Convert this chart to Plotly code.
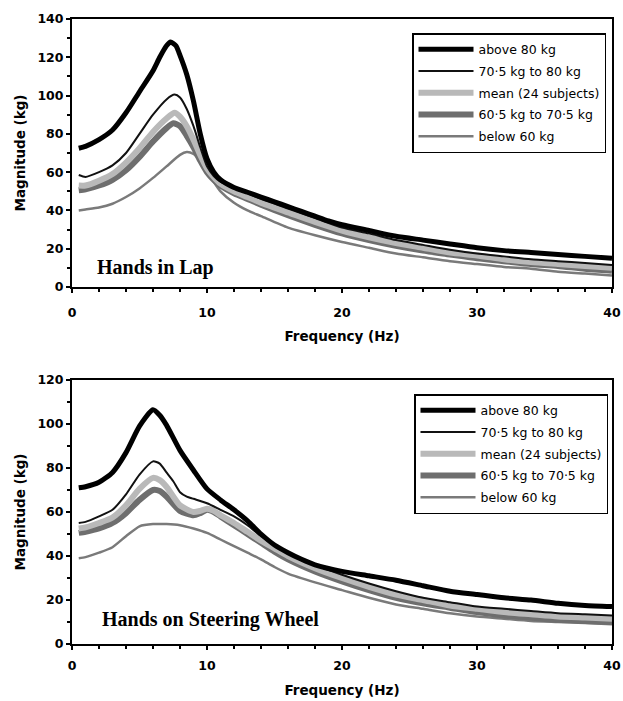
import plotly.graph_objects as go

# ---------------- data: Hands in Lap (top) ----------------
lap_above80_f = [0.5, 1, 2, 3, 4, 5, 6, 6.5, 7, 7.3, 7.7, 8, 8.5, 9, 9.5, 10, 10.5, 11, 12, 13, 14, 15, 16, 17, 18, 19, 20, 22, 24, 26, 28, 30, 32, 34, 36, 38, 40]
lap_above80_v = [72.5, 73.5, 77, 82, 91, 102, 113, 120, 126, 128, 126, 121, 111, 97, 80, 67, 60, 56, 52, 49.5, 47, 44.5, 42, 39.5, 37, 34.5, 32.5, 29.5, 26.5, 24.5, 22.5, 20.5, 19, 18, 17, 16, 15]

lap_705_f = [0.5, 1, 2, 3, 4, 5, 6, 7, 7.6, 8, 8.5, 9, 9.5, 10, 10.5, 11, 12, 13, 14, 16, 18, 20, 22, 24, 26, 28, 30, 32, 34, 36, 38, 40]
lap_705_v = [58.5, 57.5, 60, 63.5, 70, 80, 90, 98, 100.5, 99, 93, 84, 73, 63, 58, 55, 52, 49, 46, 41, 36, 31, 28, 24.5, 22, 19.5, 17.5, 16, 14.5, 13.5, 12.5, 11.5]

lap_mean_f = [0.5, 1, 2, 3, 4, 5, 6, 7, 7.6, 8, 8.5, 9, 9.5, 10, 10.5, 11, 12, 13, 14, 16, 18, 20, 22, 24, 26, 28, 30, 32, 34, 36, 38, 40]
lap_mean_v = [53, 53, 55.5, 59, 65, 72.5, 81, 88, 91, 89, 84, 77, 69, 62, 57.5, 54, 50, 47, 44, 39, 34, 29.5, 26, 23, 20.5, 18, 16.5, 14.5, 13, 12, 11, 10]

lap_605_f = [0.5, 1, 2, 3, 4, 5, 6, 7, 7.5, 8, 8.5, 9, 9.5, 10, 10.5, 11, 12, 13, 14, 16, 18, 20, 22, 24, 26, 28, 30, 32, 34, 36, 38, 40]
lap_605_v = [50.5, 51, 53, 56, 61, 68, 76, 83, 85.5, 84, 79, 73, 66, 60, 56, 53, 49, 46, 43, 37.5, 32.5, 28, 24.5, 21.5, 19, 17, 15, 13.5, 12, 11, 9.5, 8.5]

lap_below60_f = [0.5, 1, 2, 3, 4, 5, 6, 7, 8, 8.5, 9, 9.5, 10, 10.5, 11, 12, 13, 14, 16, 18, 20, 22, 24, 26, 28, 30, 32, 34, 36, 38, 40]
lap_below60_v = [40, 40.5, 41.5, 43.5, 47, 51.5, 57, 63, 69, 70.5, 69.5, 66, 61, 55, 50, 44, 40, 37, 31, 27, 23.5, 20.5, 17.5, 15.5, 13.5, 12, 10.5, 9.5, 8, 7, 6]

# ---------------- data: Hands on Steering Wheel (bottom) ----------------
sw_above80_f = [0.5, 1, 2, 3, 4, 5, 6, 6.5, 7, 8, 9, 10, 11, 12, 13, 14, 15, 16, 17, 18, 20, 22, 24, 26, 28, 30, 32, 34, 36, 38, 40]
sw_above80_v = [71, 71.5, 73.5, 78, 87, 99, 106.5, 104, 99.5, 88, 79, 70.5, 65.5, 61, 56, 50, 45, 41.5, 38.5, 36, 33, 31, 29, 26.5, 24, 22.5, 21, 20, 18.5, 17.5, 17]

sw_705_f = [0.5, 1, 2, 3, 4, 5, 6, 6.5, 7, 7.5, 8, 8.5, 9, 10, 11, 12, 13, 14, 15, 16, 18, 20, 22, 24, 26, 28, 30, 32, 34, 36, 38, 40]
sw_705_v = [55, 55.5, 58, 61, 68, 77, 83, 82, 78, 74, 69, 67, 66, 64, 61, 58, 54, 49, 45, 41.5, 36, 31.5, 27.5, 24, 21, 19, 17, 16, 15, 14, 13.5, 13]

sw_mean_f = [0.5, 1, 2, 3, 4, 5, 6, 6.5, 7, 8, 9, 9.5, 10, 10.5, 11, 12, 13, 14, 15, 16, 18, 20, 22, 24, 26, 28, 30, 32, 34, 36, 38, 40]
sw_mean_v = [52.5, 53, 55, 57.5, 63, 70.5, 75.5, 74.5, 71.5, 63, 60, 60.5, 61.5, 60.5, 58.5, 55, 51, 47, 43.5, 40, 34.5, 30, 26, 22.5, 20, 17.5, 16, 14.5, 13.5, 12.5, 12, 11.5]

sw_605_f = [0.5, 1, 2, 3, 4, 5, 6, 6.5, 7, 8, 9, 9.5, 10, 10.5, 11, 12, 13, 14, 15, 16, 18, 20, 22, 24, 26, 28, 30, 32, 34, 36, 38, 40]
sw_605_v = [50.5, 51, 52.5, 55, 59.5, 65.5, 70, 69.5, 67, 60.5, 58.5, 59.5, 61, 60, 58, 54, 50, 46, 42, 38.5, 33, 28.5, 24.5, 21, 18.5, 16.5, 14.5, 13, 12, 11, 10.5, 10]

sw_below60_f = [0.5, 1, 2, 3, 4, 5, 6, 7, 8, 9, 10, 11, 12, 13, 14, 15, 16, 18, 20, 22, 24, 26, 28, 30, 32, 34, 36, 38, 40]
sw_below60_v = [39, 39.5, 41.5, 44, 49, 53.5, 54.5, 54.5, 54, 52.5, 50.5, 47.5, 44.5, 41.5, 38.5, 35, 32, 28, 24.5, 21, 18, 16, 14, 12.5, 11.5, 10.5, 10, 9.5, 9]

series_names = ["above 80 kg", "70\u00b75 kg to 80 kg", "mean (24 subjects)", "60\u00b75 kg to 70\u00b75 kg", "below 60 kg"]

x_ticks = [0, 10, 20, 30, 40]
lap_y_ticks = [0, 20, 40, 60, 80, 100, 120, 140]
sw_y_ticks = [0, 20, 40, 60, 80, 100, 120]

# styles (drawing order: bottom-most first)
styles = {
    "below 60 kg": dict(color="#7a7a7a", width=2.5),
    "60\u00b75 kg to 70\u00b75 kg": dict(color="#6e6e6e", width=6),
    "mean (24 subjects)": dict(color="#b9b9b9", width=6),
    "70\u00b75 kg to 80 kg": dict(color="#111111", width=2),
    "above 80 kg": dict(color="#000000", width=5),
}

lap = {
    "above 80 kg": (lap_above80_f, lap_above80_v),
    "70\u00b75 kg to 80 kg": (lap_705_f, lap_705_v),
    "mean (24 subjects)": (lap_mean_f, lap_mean_v),
    "60\u00b75 kg to 70\u00b75 kg": (lap_605_f, lap_605_v),
    "below 60 kg": (lap_below60_f, lap_below60_v),
}
sw = {
    "above 80 kg": (sw_above80_f, sw_above80_v),
    "70\u00b75 kg to 80 kg": (sw_705_f, sw_705_v),
    "mean (24 subjects)": (sw_mean_f, sw_mean_v),
    "60\u00b75 kg to 70\u00b75 kg": (sw_605_f, sw_605_v),
    "below 60 kg": (sw_below60_f, sw_below60_v),
}

fig = go.Figure()
draw_order = ["below 60 kg", "60\u00b75 kg to 70\u00b75 kg", "mean (24 subjects)", "70\u00b75 kg to 80 kg", "above 80 kg"]
for data, xa, ya, lg in [(lap, "x", "y", "legend"), (sw, "x2", "y2", "legend2")]:
    for name in draw_order:
        f, v = data[name]
        rank = series_names.index(name) + 1
        fig.add_trace(go.Scatter(
            x=f, y=v, mode="lines", name=name, line=dict(shape="spline", smoothing=0.6, **styles[name]),
            xaxis=xa, yaxis=ya, legend=lg, legendrank=rank, legendgroup=f"{lg}_{rank}",
        ))

tickfont = dict(family="DejaVu Sans", size=12.5, color="black", weight="bold")
titlefont = dict(family="DejaVu Sans", size=13.5, color="black", weight="bold")
legfont = dict(family="DejaVu Sans", size=12.5, color="black")

axis_common = dict(showline=True, linecolor="black", linewidth=2, mirror=True, showgrid=False,
                   zeroline=False, ticks="outside", ticklen=4, tickwidth=1.5, tickcolor="black",
                   tickfont=tickfont, automargin=False)

L, R = 72, 11
PW = 623 - L - R

top_dom = [(644 - 287) / 625, 1.0]
bot_dom = [0.0, (644 - 380) / 625]

fig.update_layout(
    width=623, height=701,
    margin=dict(l=L, r=R, t=19, b=57),
    paper_bgcolor="white", plot_bgcolor="white",
    xaxis=dict(domain=[0, 1], range=[0, 40], tickvals=x_ticks, anchor="y",
               ticklabelstandoff=9,
               title=dict(text="Frequency (Hz)", font=titlefont, standoff=13),
               minor=dict(dtick=2, ticks="outside", ticklen=3, tickcolor="black"), **axis_common),
    yaxis=dict(domain=top_dom, range=[0, 140], tickvals=lap_y_ticks, anchor="x",
               title=dict(text="Magnitude (kg)", font=titlefont, standoff=9),
               minor=dict(dtick=10, ticks="outside", ticklen=3, tickcolor="black"), **axis_common),
    xaxis2=dict(domain=[0, 1], range=[0, 40], tickvals=x_ticks, anchor="y2",
                ticklabelstandoff=5,
                title=dict(text="Frequency (Hz)", font=titlefont, standoff=14),
                minor=dict(dtick=2, ticks="outside", ticklen=3, tickcolor="black"), **axis_common),
    yaxis2=dict(domain=bot_dom, range=[0, 120], tickvals=sw_y_ticks, anchor="x2",
                title=dict(text="Magnitude (kg)", font=titlefont, standoff=9),
                minor=dict(dtick=10, ticks="outside", ticklen=3, tickcolor="black"), **axis_common),
    legend=dict(x=(412 - L) / PW, y=1 - (33 - 19) / 625, xanchor="left", yanchor="top",
                bordercolor="black", borderwidth=1.5, bgcolor="white",
                font=legfont, itemwidth=55, tracegroupgap=2.5),
    legend2=dict(x=(414 - L) / PW, y=1 - (394 - 19) / 625, xanchor="left", yanchor="top",
                 bordercolor="black", borderwidth=1.5, bgcolor="white",
                 font=legfont, itemwidth=55, tracegroupgap=2.5),
    showlegend=True,
)

fig.add_annotation(text="Hands in Lap", x=1.7, y=10, xref="x", yref="y", xanchor="left", yanchor="middle",
                   showarrow=False, font=dict(family="Liberation Serif, Times New Roman, serif", size=20, color="black", weight="bold"))
fig.add_annotation(text="Hands on Steering Wheel", x=2.1, y=11, xref="x2", yref="y2", xanchor="left", yanchor="middle",
                   showarrow=False, font=dict(family="Liberation Serif, Times New Roman, serif", size=20, color="black", weight="bold"))

fig.write_html("out.html")
